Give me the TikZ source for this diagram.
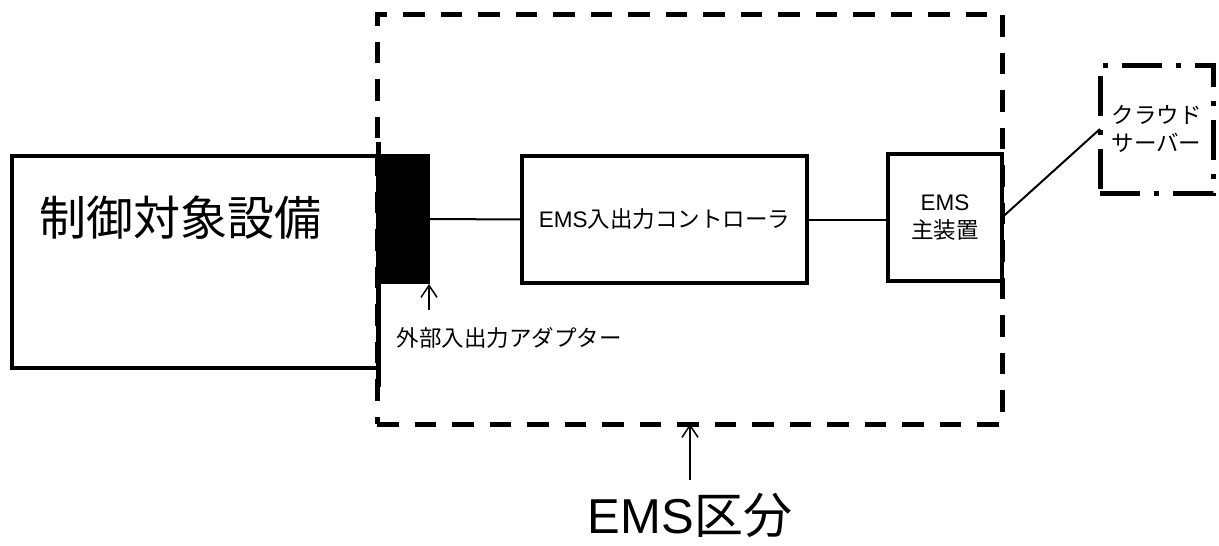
\documentclass[tikz,border=0pt]{standalone}
\usepackage{fontspec}
\setmainfont{Noto Sans CJK JP}
\newfontfamily\latin{Liberation Sans}
\usetikzlibrary{arrows.meta}

\begin{document}
\begin{tikzpicture}[x=1pt,y=-1pt]
        \tikzset{mybox/.style={draw,line width=4.5pt,inner sep=0pt,outer sep=0pt,align=center,%
        font=\fontsize{22.5}{28}\selectfont},
        myptr/.style={line width=1.5pt,-{Straight Barb[length=12pt,width=16pt,line width=1.5pt]}},
        mywire/.style={line width=2pt},
        smalltxt/.style={font=\fontsize{22.5}{28}\selectfont},
        bigtxt/.style={font=\fontsize{47}{50}\selectfont}}
        \useasboundingbox (0,0) rectangle (1219,546);

        % EMS area
        \node[draw,line width=5pt,dash pattern=on 21.5pt off 16pt,minimum width=625pt,%
        minimum height=410pt,inner sep=0pt,outer sep=0pt] (area) at (689.5,219) {};

        % left box
        \node[mybox,minimum width=366pt,minimum height=212pt] (equip) at (195,262) {};
        \node[bigtxt,anchor=west] (equiptext) at (36,218) {制御対象設備};
        \draw[line width=5pt] (378,142) -- (378,387);

        % adapter
        \node[fill=black,minimum width=52pt,minimum height=130pt,inner sep=0pt,outer sep=0pt] (adapter) at (404,219) {};
        \node[smalltxt,anchor=west] (adaptertext) at (393,338) {外部入出力アダプター};
        \coordinate (adptail) at (429,310);

        % middle and right boxes
        \node[mybox,minimum width=285pt,minimum height=127pt] (ctrl) at (664.5,219.5) {{\latin EMS}入出力コントローラ};
        \node[mybox,minimum width=114pt,minimum height=127pt] (main) at (945,217.5) {{\latin EMS}\\主装置};
        \node[mybox,line width=5pt,dash pattern=on 40pt off 14pt on 5pt off 14pt,%
        minimum width=113pt,minimum height=128pt] (cloud) at (1156.5,129) {クラウド\\サーバー};

        % bottom label
        \node[font=\fontsize{49}{52}\selectfont] (areatext) at (690,515) {{\latin EMS}区分};
        \coordinate (areatail) at (690,480);

        % lines
        \draw[mywire] (adapter.east) -- (ctrl.west);
        \draw[mywire] (ctrl.east) -- (ctrl.east -| main.west);
        \draw[mywire] (main.east) -- (cloud.west);
        % arrows
        \draw[myptr] (adptail) -- (adptail |- adapter.south);
        \draw[myptr] (areatail) -- (areatail |- area.south);
    \end{tikzpicture}
\end{document}
